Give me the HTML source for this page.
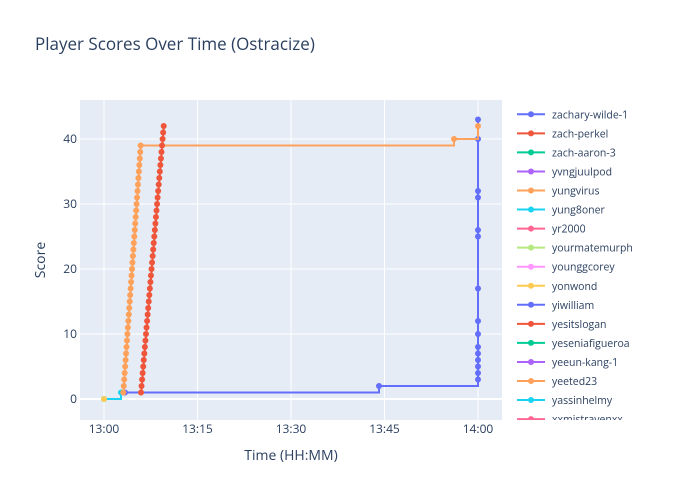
<!DOCTYPE html>
<html><head><meta charset="utf-8"><style>
body{margin:0;background:#fff}
svg{display:block;font-family:"Open Sans","Liberation Sans",sans-serif}
</style></head><body>
<svg id="s" width="700" height="500" xmlns="http://www.w3.org/2000/svg">
<rect x="0" y="0" width="700" height="500" fill="#fff"/>
<rect x="80" y="100" width="422" height="320" fill="#e5ecf6"/>
<g stroke="#fff" stroke-width="1">
<line x1="104" y1="100" x2="104" y2="420"/><line x1="197.5" y1="100" x2="197.5" y2="420"/>
<line x1="291" y1="100" x2="291" y2="420"/><line x1="384.5" y1="100" x2="384.5" y2="420"/>
<line x1="478" y1="100" x2="478" y2="420"/>
<line x1="80" y1="334" x2="502" y2="334"/><line x1="80" y1="269" x2="502" y2="269"/>
<line x1="80" y1="204" x2="502" y2="204"/><line x1="80" y1="139" x2="502" y2="139"/>
<line x1="80" y1="399" x2="502" y2="399" stroke-width="2"/>
</g>
<g id="d"></g>
<g font-size="12" fill="#2a3f5f" text-anchor="middle">
<text x="104" y="433">13:00</text><text x="197.5" y="433">13:15</text><text x="291" y="433">13:30</text><text x="384.5" y="433">13:45</text><text x="478" y="433">14:00</text>
</g>
<g font-size="12" fill="#2a3f5f" text-anchor="end">
<text x="77" y="403">0</text><text x="77" y="338">10</text><text x="77" y="273">20</text><text x="77" y="208">30</text><text x="77" y="143">40</text>
</g>
<text x="291" y="460" font-size="14" fill="#2a3f5f" text-anchor="middle">Time (HH:MM)</text>
<text x="45" y="260" font-size="14" fill="#2a3f5f" text-anchor="middle" transform="rotate(-90 45 260)">Score</text>
<text x="35" y="50" font-size="17" fill="#2a3f5f">Player Scores Over Time (Ostracize)</text>
<svg x="510" y="100" width="140" height="320"><g id="lg"></g></svg>
</svg>
<script>
var Y=function(v){return 399-6.5*v};
var d=document.getElementById('d'),h='';
function step(pts,c){var s='M'+pts[0][0]+','+Y(pts[0][1]);for(var i=1;i<pts.length;i++){s+=' H'+pts[i][0]+' V'+Y(pts[i][1]);}
h+='<path d="'+s+'" fill="none" stroke="'+c+'" stroke-width="2"/>';pts.forEach(function(p){h+='<circle cx="'+p[0]+'" cy="'+Y(p[1])+'" r="3" fill="'+c+'"/>';});}
var o=[];for(var v=1;v<=39;v++)o.push([123.3+(140.7-123.3)*(v-1)/38,v]);o.push([454,40]);o.push([478,42]);
var r=[];for(var v=1;v<=42;v++)r.push([141+(163.7-141)*(v-1)/41,v]);
var b=[[125,1],[379,2]];[3,4,5,6,7,8,10,12,17,25,26,31,32,40,43].forEach(function(v){b.push([478,v])});
step([[104,0],[121,1]],'#19d3f3');
step(b,'#636efa');
step(o,'#fea15a');
step(r,'#ef553b');
h+='<circle cx="104" cy="399" r="3" fill="#fecb52"/>';
d.innerHTML=h;
var names=["zachary-wilde-1","zach-perkel","zach-aaron-3","yvngjuulpod","yungvirus","yung8oner","yr2000","yourmatemurph","younggcorey","yonwond","yiwilliam","yesitslogan","yeseniafigueroa","yeeun-kang-1","yeeted23","yassinhelmy","xxmistravenxx"];
var cols=["#636efa","#ef553b","#00cc96","#ab63fa","#ffa15a","#19d3f3","#ff6692","#b6e880","#ff97ff","#fecb52"];
var g='';names.forEach(function(n,i){var y=14.3+i*19.05,c=cols[i%10];g+='<line x1="7" x2="35" y1="'+y+'" y2="'+y+'" stroke="'+c+'" stroke-width="2"/><circle cx="21" cy="'+y+'" r="3" fill="'+c+'"/><text x="42" y="'+(y+4)+'" font-size="10.5" fill="#2a3f5f">'+n+'</text>';});
document.getElementById('lg').innerHTML=g;
</script>
</body></html>
